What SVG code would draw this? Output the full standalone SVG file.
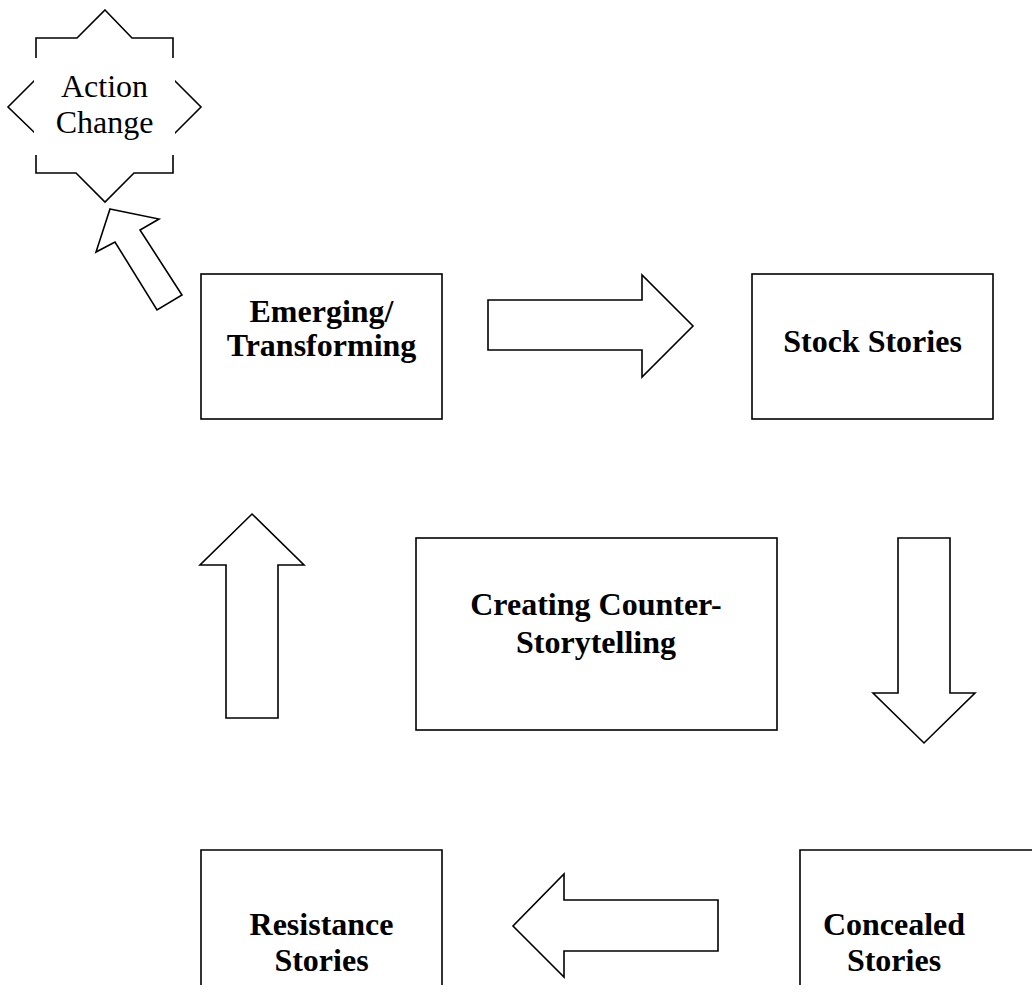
<svg xmlns="http://www.w3.org/2000/svg" width="1032" height="993" viewBox="0 0 1032 993">
<style>
.shape{fill:#fff;stroke:#000;stroke-width:1.6;stroke-linejoin:miter}
.bold{font-family:"Liberation Serif","Times New Roman",serif;font-weight:bold;font-size:32px;fill:#000;text-anchor:middle}
.reg{font-family:"Liberation Serif","Times New Roman",serif;font-size:32px;fill:#000;text-anchor:middle}
</style>
<rect width="1032" height="993" fill="#fff"/>
<g id="action-change">
<polygon class="shape" points="105,10 132,38 173,38 173,79 201,107 173,135 173,173 134,173 105,202 76,173 36,173 36,134 8,107 36,79 36,38 77,38"/>
<rect x="34" y="58" width="141" height="97" fill="#fff"/>
<text class="reg" x="104.5" y="97">Action</text>
<text class="reg" x="104.5" y="133">Change</text>
</g>
<g id="emerging">
<rect class="shape" x="201" y="274" width="241" height="145"/>
<text class="bold" x="321.5" y="322">Emerging/</text>
<text class="bold" x="321.5" y="356">Transforming</text>
</g>
<g id="stock">
<rect class="shape" x="752" y="274" width="241" height="145"/>
<text class="bold" x="872.5" y="352">Stock Stories</text>
</g>
<g id="creating">
<rect class="shape" x="416" y="538" width="361" height="192"/>
<text class="bold" x="596" y="615">Creating Counter-</text>
<text class="bold" x="596" y="653">Storytelling</text>
</g>
<g id="resistance">
<path class="shape" d="M201,985 V850 H442 V985"/>
<text class="bold" x="321.5" y="935">Resistance</text>
<text class="bold" x="321.5" y="971">Stories</text>
</g>
<g id="concealed">
<path class="shape" d="M800,985 V850 H1040"/>
<text class="bold" x="894" y="935">Concealed</text>
<text class="bold" x="894" y="971">Stories</text>
</g>
<g id="connectors">
<polygon class="shape" points="110,209 159,219 140,230 182,295 157,310 115,242 96,252"/>
<polygon class="shape" points="488,300 642,300 642,275 693,326 642,377 642,350 488,350"/>
<polygon class="shape" points="898,538 950,538 950,693 975,693 924,743 873,693 898,693"/>
<polygon class="shape" points="718,900 718,951 564,951 564,977 513,926 564,874 564,900"/>
<polygon class="shape" points="226,718 278,718 278,565 304,565 252,514 200,565 226,565"/>
</g>
</svg>
